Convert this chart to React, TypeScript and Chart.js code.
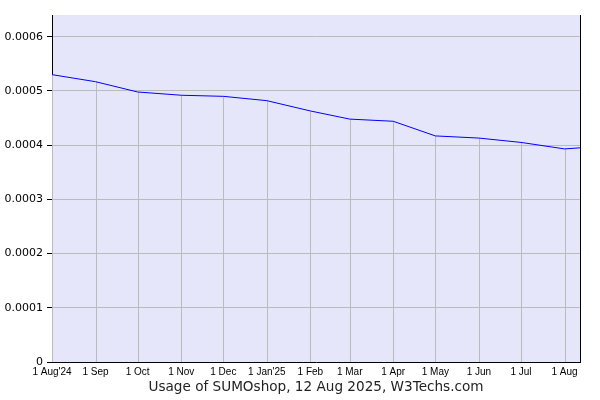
import React, { useEffect, useRef } from "react";
import { Chart, registerables } from "chart.js";

Chart.register(...registerables);

// days since 1 Aug 2024
const pointDays = [0, 31, 61, 92, 122, 153, 184, 212, 243, 273, 304, 334, 365, 376];
const usageValues = [0.00053, 0.000517, 0.000498, 0.000492, 0.00049, 0.000482, 0.000463, 0.000448, 0.000444, 0.000417, 0.000413, 0.000405, 0.000393, 0.000395];

const monthTickDays = [0, 31, 61, 92, 122, 153, 184, 212, 243, 273, 304, 334, 365];
const monthTickLabels = ["1 Aug'24", "1 Sep", "1 Oct", "1 Nov", "1 Dec", "1 Jan'25", "1 Feb", "1 Mar", "1 Apr", "1 May", "1 Jun", "1 Jul", "1 Aug"];

const yTickValues = [0, 0.0001, 0.0002, 0.0003, 0.0004, 0.0005, 0.0006];
const yTickLabels = ["0", "0.0001", "0.0002", "0.0003", "0.0004", "0.0005", "0.0006"];

const titleText = "Usage of SUMOshop, 12 Aug 2025, W3Techs.com";

const bgPlugin = {
  id: "bgAndGrid",
  beforeDraw(chart: any) {
    const { ctx, chartArea } = chart;
    ctx.save();
    ctx.fillStyle = "#E6E6FA";
    ctx.fillRect(chartArea.left, chartArea.top, chartArea.right - chartArea.left, chartArea.bottom - chartArea.top);
    ctx.restore();
  },
  beforeDatasetsDraw(chart: any) {
    const { ctx, chartArea } = chart;
    const meta = chart.getDatasetMeta(0);
    ctx.save();
    ctx.strokeStyle = "#BBBBBB";
    ctx.lineWidth = 1;
    meta.data.forEach((pt: any) => {
      const x = Math.round(pt.x) + 0.5;
      ctx.beginPath();
      ctx.moveTo(x, pt.y);
      ctx.lineTo(x, chartArea.bottom);
      ctx.stroke();
    });
    ctx.restore();
  },
  afterDraw(chart: any) {
    const { ctx, chartArea } = chart;
    ctx.save();
    ctx.strokeStyle = "#000";
    ctx.lineWidth = 1;
    const x = Math.round(chartArea.right) + 0.5;
    ctx.beginPath();
    ctx.moveTo(x, chartArea.top);
    ctx.lineTo(x, chartArea.bottom);
    ctx.stroke();
    ctx.restore();
  },
};

export default function App() {
  const ref = useRef<HTMLCanvasElement | null>(null);
  useEffect(() => {
    if (!ref.current) return;
    const chart = new Chart(ref.current, {
      type: "line",
      data: {
        datasets: [
          {
            data: pointDays.map((d, i) => ({ x: d, y: usageValues[i] })),
            borderColor: "#0000FF",
            borderWidth: 1,
            pointRadius: 0,
            fill: false,
            tension: 0,
          },
        ],
      },
      options: {
        animation: false,
        responsive: false,
        events: [],
        layout: { padding: { top: 15, right: 20, left: 0, bottom: 4 } },
        plugins: { legend: { display: false }, tooltip: { enabled: false } },
        scales: {
          x: {
            type: "linear",
            min: 0,
            max: 376,
            afterBuildTicks: (scale: any) => {
              scale.ticks = monthTickDays.map((v) => ({ value: v }));
            },
            afterFit: (scale: any) => {
              scale.height = 34;
            },
            ticks: {
              autoSkip: false,
              maxRotation: 0,
              padding: 4,
              color: "#000",
              font: { family: "Liberation Sans", size: 10 },
              callback: (v: any) => {
                const i = monthTickDays.indexOf(Number(v));
                return i >= 0 ? monthTickLabels[i] : "";
              },
            },
            grid: { display: false, drawTicks: false },
            border: { display: true, color: "#000", width: 1 },
            title: {
              display: true,
              text: titleText,
              color: "#222",
              font: { family: "DejaVu Sans", size: 13.6 },
              padding: { top: 0, bottom: 0 },
            },
          },
          y: {
            min: 0,
            max: 0.00064,
            afterBuildTicks: (scale: any) => {
              scale.ticks = yTickValues.map((v) => ({ value: v }));
            },
            afterFit: (scale: any) => {
              scale.width = 52;
            },
            ticks: {
              color: "#000",
              padding: 4,
              font: { family: "DejaVu Sans", size: 11 },
              callback: (v: any) => {
                const i = yTickValues.indexOf(Number(v));
                return i >= 0 ? yTickLabels[i] : "";
              },
            },
            grid: { color: "#BBBBBB", tickLength: 5, tickColor: "#000", drawOnChartArea: true },
            border: { display: true, color: "#000", width: 1 },
          },
        },
      },
      plugins: [bgPlugin],
    } as any);
    return () => chart.destroy();
  }, []);
  return (
    <div style={{ position: "absolute", left: 0, top: 0, width: 600, height: 400, background: "#fff" }}>
      <canvas ref={ref} width={600} height={400} style={{ width: 600, height: 400 }} />
    </div>
  );
}
